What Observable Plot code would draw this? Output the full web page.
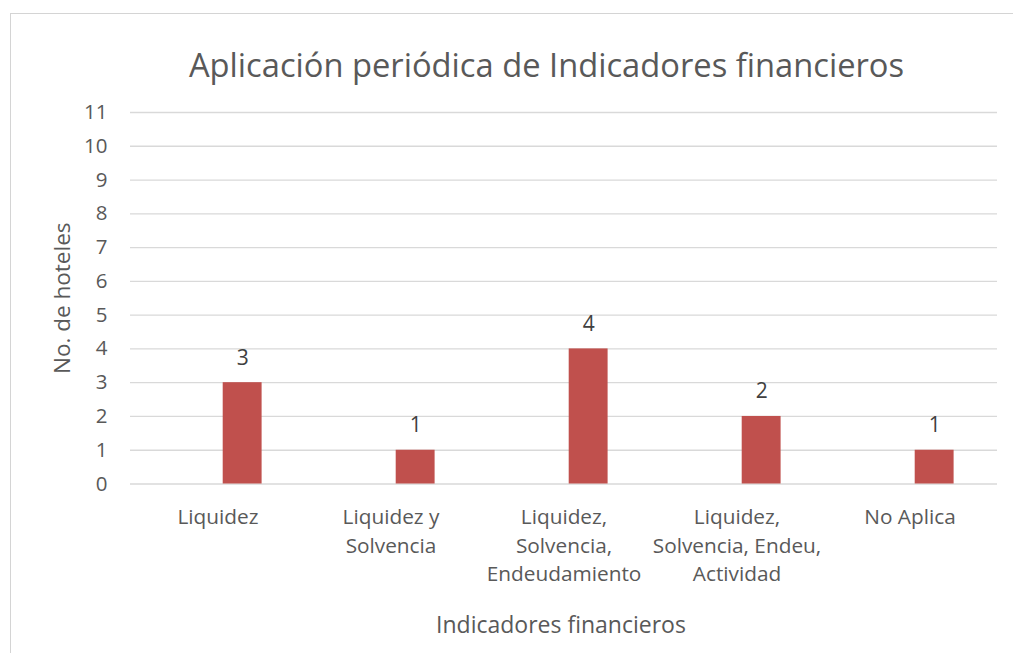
<!DOCTYPE html>
<html>
<head>
<meta charset="utf-8">
<script src="https://cdn.jsdelivr.net/npm/d3@7"></script>
<script src="https://cdn.jsdelivr.net/npm/@observablehq/plot@0.6"></script>
<style>
  html, body { margin: 0; padding: 0; background: #fff; }
  #wrap { position: relative; width: 1013px; height: 653px; overflow: hidden; font-family: "Open Sans", sans-serif; }
  #frame { position: absolute; left: 10px; top: 13px; right: -5px; bottom: -5px; border-left: 1px solid #d4d4d4; border-top: 1px solid #d4d4d4; pointer-events: none; }
  #title { position: absolute; left: 0; top: 49px; width: 1093px; text-align: center; font-size: 32.7px; line-height: 1; color: #595959; }
  #chart { position: absolute; left: 0; top: 95px; }
</style>
</head>
<body>
<div id="wrap">
  <div id="frame"></div>
  <div id="title">Aplicación periódica de Indicadores financieros</div>
  <div id="chart"></div>
</div>
<script>
const categories = [
  "Liquidez",
  "Liquidez y\nSolvencia",
  "Liquidez,\nSolvencia,\nEndeudamiento",
  "Liquidez,\nSolvencia, Endeu,\nActividad",
  "No Aplica"
];
const values = [3, 1, 4, 2, 1];
const yTicks = [0, 1, 2, 3, 4, 5, 6, 7, 8, 9, 10, 11];
const yLabel = "No. de hoteles";
const xLabel = "Indicadores financieros";

const data = categories.map((c, i) => ({category: c, value: values[i]}));
const textColor = "#595959";

const plot = Plot.plot({
  width: 1013,
  height: 558,
  marginLeft: 130,
  marginRight: 16,
  marginTop: 17,
  marginBottom: 169.5,
  style: {fontFamily: "Open Sans, sans-serif", color: textColor, background: "transparent"},
  x: {domain: categories, padding: 0, label: null},
  y: {domain: [0, 11], label: null},
  marks: [
    Plot.gridY(yTicks, {stroke: "#d9d9d9", strokeOpacity: 1, strokeWidth: 1.3}),
    Plot.barY(data, {x: "category", y: "value", fill: "#C0504D", insetLeft: 91.7, insetRight: 42.4}),
    Plot.text(data, {x: "category", y: "value", text: d => String(d.value), dx: 24.7, dy: -24.7, fontSize: 21, fill: "#404040"}),
    Plot.axisY({ticks: yTicks, tickSize: 0, tickPadding: 23, fontSize: 20.5, label: null, tickFormat: d => String(d), fill: textColor}),
    Plot.axisX({tickSize: 0, tickPadding: 20, fontSize: 20.8, lineHeight: 1.37, label: null, fill: textColor}),
    Plot.text([yLabel], {frameAnchor: "left", dx: -68, rotate: -90, fontSize: 22.5, fill: textColor, lineAnchor: "middle", textAnchor: "middle"}),
    Plot.text([xLabel], {frameAnchor: "bottom", dy: 141.5, dx: -3, fontSize: 23, fill: textColor, lineAnchor: "middle", textAnchor: "middle"})
  ]
});
document.getElementById("chart").appendChild(plot);
</script>
</body>
</html>
